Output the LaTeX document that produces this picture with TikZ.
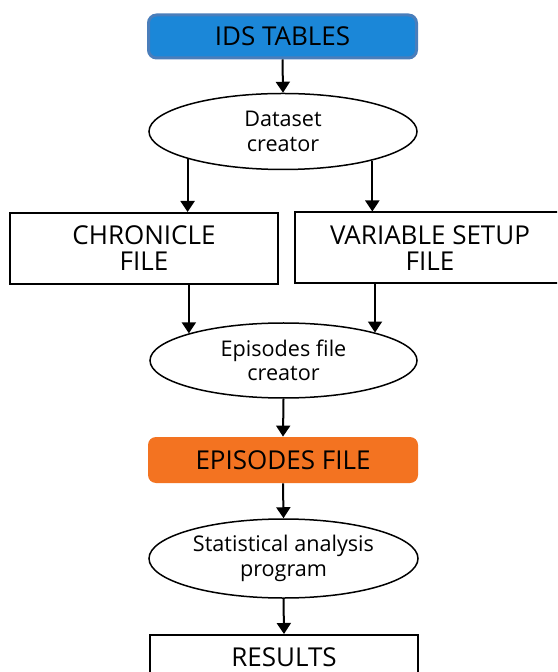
\documentclass[tikz,border=0pt]{standalone}
\usepackage{fontspec}
\setmainfont{Open Sans}
\usepackage{tikz}
\usetikzlibrary{shapes.geometric,arrows.meta,positioning}

\definecolor{idsblue}{RGB}{27,135,216}
\definecolor{idsedge}{RGB}{74,126,187}
\definecolor{epiorange}{RGB}{243,115,33}

\begin{document}
\begin{tikzpicture}[
    x=0.5pt, y=-0.5pt,
    capsfont/.style={font=\fontsize{13}{13}\selectfont},
    smallfont/.style={font=\fontsize{10.8}{12.2}\selectfont},
    filebox/.style={rectangle, draw=black, line width=1pt, align=center, inner sep=0pt, capsfont},
    coloredbox/.style={rectangle, rounded corners=4pt, align=center, inner sep=0pt, capsfont},
    program/.style={ellipse, draw=black, line width=0.75pt, align=center, inner sep=0pt, smallfont},
    arr/.style={line width=1pt, -{Triangle[length=5.5pt,width=7pt]}}
]
    \useasboundingbox (0,0) rectangle (557,672);
    \clip (0,0) rectangle (557,672);

    \node[coloredbox, fill=idsblue, draw=idsedge, line width=1.5pt, minimum width=134pt, minimum height=21.5pt] (ids) at (282.5,36.5) {IDS TABLES};

    \node[program, minimum width=134pt, minimum height=38pt] (dataset) at (283,131.5) {Dataset\\creator};

    \node[filebox, minimum width=134pt, minimum height=35.5pt] (chronicle) at (144,248.5) {CHRONICLE\\FILE};
    \node[filebox, minimum width=135pt, minimum height=35.5pt] (varsetup) at (430,248) {VARIABLE SETUP\\FILE};

    \node[program, minimum width=133.5pt, minimum height=37.5pt] (epcreator) at (283.5,360.5) {Episodes file\\creator};

    \node[coloredbox, fill=epiorange, minimum width=135pt, minimum height=23pt] (epfile) at (283,460) {EPISODES FILE};

    \node[program, minimum width=134.5pt, minimum height=39.5pt] (stat) at (283.5,558.5) {Statistical analysis\\program};

    \node[filebox, minimum width=134pt, minimum height=22pt] (results) at (284,657) {RESULTS};

    % connectors
    \draw[arr] (ids.south) -- (dataset.north);
    \draw[arr] (dataset.196.6) -- (dataset.196.6 |- chronicle.north);
    \draw[arr] (dataset.-18.3) -- (dataset.-18.3 |- varsetup.north);
    \draw[arr] (epcreator.164 |- chronicle.south) -- (epcreator.164);
    \draw[arr] (epcreator.17.9 |- varsetup.south) -- (epcreator.17.9);
    \draw[arr] (epcreator.south) -- (epfile.north);
    \draw[arr] (epfile.south) -- (stat.north);
    \draw[arr] (stat.south) -- (results.north);
\end{tikzpicture}
\end{document}
